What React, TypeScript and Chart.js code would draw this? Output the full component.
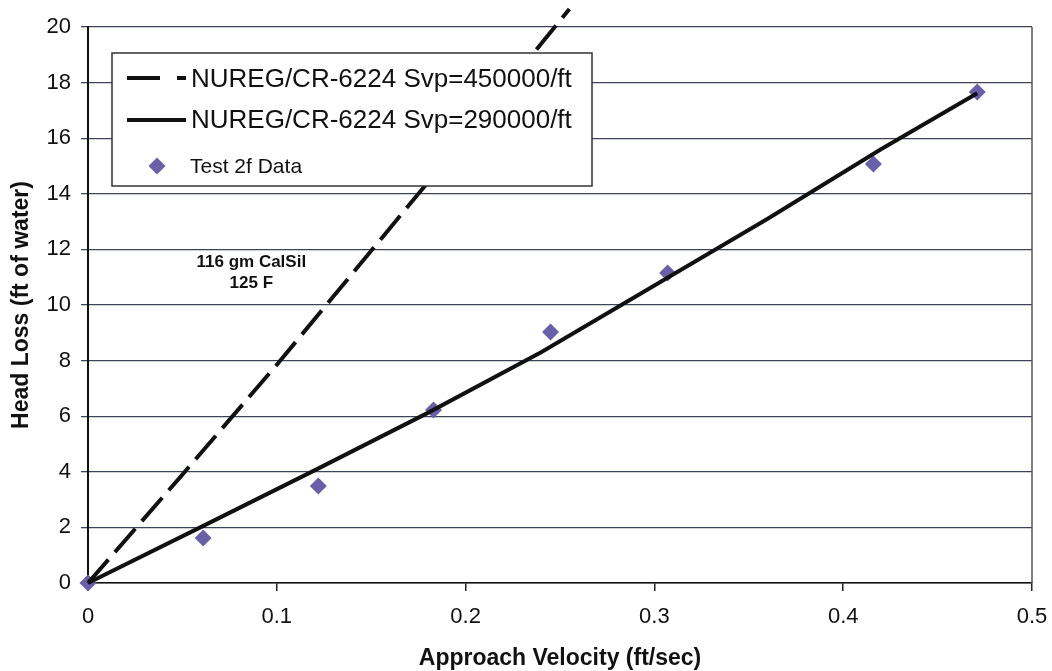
import React, { useEffect, useRef } from 'react';
import { Chart, registerables } from 'chart.js';

Chart.register(...registerables);

// Test 2f measured data
const testVelocity = [0, 0.061, 0.122, 0.183, 0.245, 0.307, 0.416, 0.471];
const testHeadLoss = [0, 1.62, 3.49, 6.22, 9.03, 11.15, 15.07, 17.66];

// NUREG/CR-6224 Svp=450000/ft
const svp450Velocity = [0, 0.05, 0.1, 0.15, 0.2, 0.255];
const svp450HeadLoss = [0, 3.9, 7.85, 11.95, 16.05, 20.65];

// NUREG/CR-6224 Svp=290000/ft
const svp290Velocity = [0, 0.06, 0.12, 0.18, 0.24, 0.3, 0.36, 0.42, 0.471];
const svp290HeadLoss = [0, 2.02, 4.05, 6.12, 8.3, 10.7, 13.1, 15.6, 17.62];

const legendLabels = [
  'NUREG/CR-6224 Svp=450000/ft',
  'NUREG/CR-6224 Svp=290000/ft',
  'Test 2f Data',
];
const annotationLines = ['116 gm CalSil', '125 F'];
const xTitle = 'Approach Velocity (ft/sec)';
const yTitle = 'Head Loss (ft of water)';

const FONT = '"Liberation Sans", Arial, sans-serif';
const POINT_COLOR = '#6a60aa';
const GRID_COLOR = '#3d4455';

const toXY = (xs: number[], ys: number[]) => xs.map((x, i) => ({ x, y: ys[i] }));

const overlayPlugin = {
  id: 'overlay',
  beforeDatasetsDraw(chart: any) {
    const { ctx, chartArea } = chart;
    ctx.save();
    ctx.strokeStyle = '#555';
    ctx.lineWidth = 1.5;
    ctx.beginPath();
    ctx.moveTo(chartArea.right, chartArea.top);
    ctx.lineTo(chartArea.right, chartArea.bottom);
    ctx.stroke();
    ctx.restore();
  },
  afterDatasetsDraw(chart: any) {
    const { ctx, chartArea, scales } = chart;
    ctx.save();
    // annotation text
    ctx.fillStyle = '#111';
    ctx.font = `bold 17px ${FONT}`;
    ctx.textAlign = 'center';
    ctx.textBaseline = 'alphabetic';
    const ax = scales.x.getPixelForValue(0.0865);
    ctx.fillText(annotationLines[0], ax, scales.y.getPixelForValue(11.35));
    ctx.fillText(annotationLines[1], ax, scales.y.getPixelForValue(10.6));

    // legend box
    const bx = chartArea.left + 24;
    const by = chartArea.top + 26;
    const bw = 480;
    const bh = 133;
    ctx.fillStyle = '#fff';
    ctx.fillRect(bx, by, bw, bh);
    ctx.strokeStyle = '#333';
    ctx.lineWidth = 1.5;
    ctx.strokeRect(bx, by, bw, bh);

    const sx0 = bx + 15;
    const sx1 = bx + 74;
    const tx = bx + 79;
    ctx.strokeStyle = '#111';
    ctx.lineWidth = 4;
    // dashed sample
    ctx.beginPath();
    ctx.moveTo(sx0, by + 25);
    ctx.lineTo(sx0 + 33, by + 25);
    ctx.moveTo(sx0 + 50, by + 25);
    ctx.lineTo(sx1, by + 25);
    ctx.stroke();
    // solid sample
    ctx.beginPath();
    ctx.moveTo(sx0, by + 67);
    ctx.lineTo(sx1, by + 67);
    ctx.stroke();
    // diamond
    const dx = bx + 45;
    const dy = by + 113;
    const r = 8.5;
    ctx.fillStyle = POINT_COLOR;
    ctx.beginPath();
    ctx.moveTo(dx - r, dy);
    ctx.lineTo(dx, dy - r);
    ctx.lineTo(dx + r, dy);
    ctx.lineTo(dx, dy + r);
    ctx.closePath();
    ctx.fill();

    ctx.fillStyle = '#111';
    ctx.textAlign = 'left';
    ctx.textBaseline = 'alphabetic';
    ctx.font = `26px ${FONT}`;
    ctx.fillText(legendLabels[0], tx, by + 34);
    ctx.fillText(legendLabels[1], tx, by + 75);
    ctx.font = `21px ${FONT}`;
    ctx.fillText(legendLabels[2], tx - 1, by + 120);
    ctx.restore();
  },
};

export default function App() {
  const canvasRef = useRef<HTMLCanvasElement | null>(null);

  useEffect(() => {
    const canvas = canvasRef.current;
    if (!canvas) return;
    const chart = new Chart(canvas, {
      type: 'scatter',
      data: {
        datasets: [
          {
            label: legendLabels[0],
            data: toXY(svp450Velocity, svp450HeadLoss),
            showLine: true,
            borderColor: '#111',
            borderWidth: 4,
            borderDash: [31, 10],
            pointRadius: 0,
            tension: 0,
            clip: false,
          } as any,
          {
            label: legendLabels[1],
            data: toXY(svp290Velocity, svp290HeadLoss),
            showLine: true,
            borderColor: '#111',
            borderWidth: 4,
            pointRadius: 0,
            tension: 0,
            clip: false,
          } as any,
          {
            label: legendLabels[2],
            data: toXY(testVelocity, testHeadLoss),
            showLine: false,
            pointStyle: 'rectRot',
            pointRadius: 8.5,
            pointBackgroundColor: POINT_COLOR,
            pointBorderColor: POINT_COLOR,
            pointBorderWidth: 0,
            clip: false,
          } as any,
        ],
      },
      options: {
        responsive: false,
        animation: false,
        devicePixelRatio: 1,
        layout: { padding: { left: 0, right: 20, top: 27, bottom: 0 } },
        plugins: {
          legend: { display: false },
          tooltip: { enabled: false },
        },
        scales: {
          x: {
            type: 'linear',
            min: 0,
            max: 0.5,
            afterFit: (scale: any) => {
              scale.height = 88;
              scale.paddingLeft = 0;
              scale.paddingRight = 0;
            },
            ticks: {
              stepSize: 0.1,
              color: '#111',
              font: { family: FONT, size: 22 },
              padding: 13,
              maxRotation: 0,
              callback: (v: any) => String(Math.round(Number(v) * 10) / 10),
            },
            grid: {
              drawOnChartArea: false,
              drawTicks: true,
              tickLength: 8,
              color: '#222',
              lineWidth: 1.5,
            },
            border: { display: true, color: '#111', width: 1.5 },
            title: {
              display: true,
              text: xTitle,
              color: '#111',
              font: { family: FONT, size: 23, weight: 'bold', lineHeight: 1 },
              padding: { top: 0, bottom: 1 },
            },
          },
          y: {
            type: 'linear',
            min: 0,
            max: 20,
            afterFit: (scale: any) => {
              scale.width = 88;
              scale.paddingTop = 0;
              scale.paddingBottom = 0;
            },
            ticks: {
              stepSize: 2,
              color: '#111',
              font: { family: FONT, size: 22 },
              padding: 10,
            },
            grid: {
              drawOnChartArea: true,
              drawTicks: true,
              tickLength: 7,
              color: GRID_COLOR,
              lineWidth: 1.3,
            },
            border: { display: true, color: '#111', width: 2 },
            title: {
              display: true,
              text: yTitle,
              color: '#111',
              font: { family: FONT, size: 23, weight: 'bold', lineHeight: 1 },
              padding: { top: 10, bottom: 0 },
            },
          },
        },
      } as any,
      plugins: [overlayPlugin],
    });
    return () => chart.destroy();
  }, []);

  return (
    <div style={{ position: 'absolute', left: 0, top: 0, width: 1052, height: 671, background: '#fff' }}>
      <canvas ref={canvasRef} width={1052} height={671} style={{ display: 'block' }} />
    </div>
  );
}
